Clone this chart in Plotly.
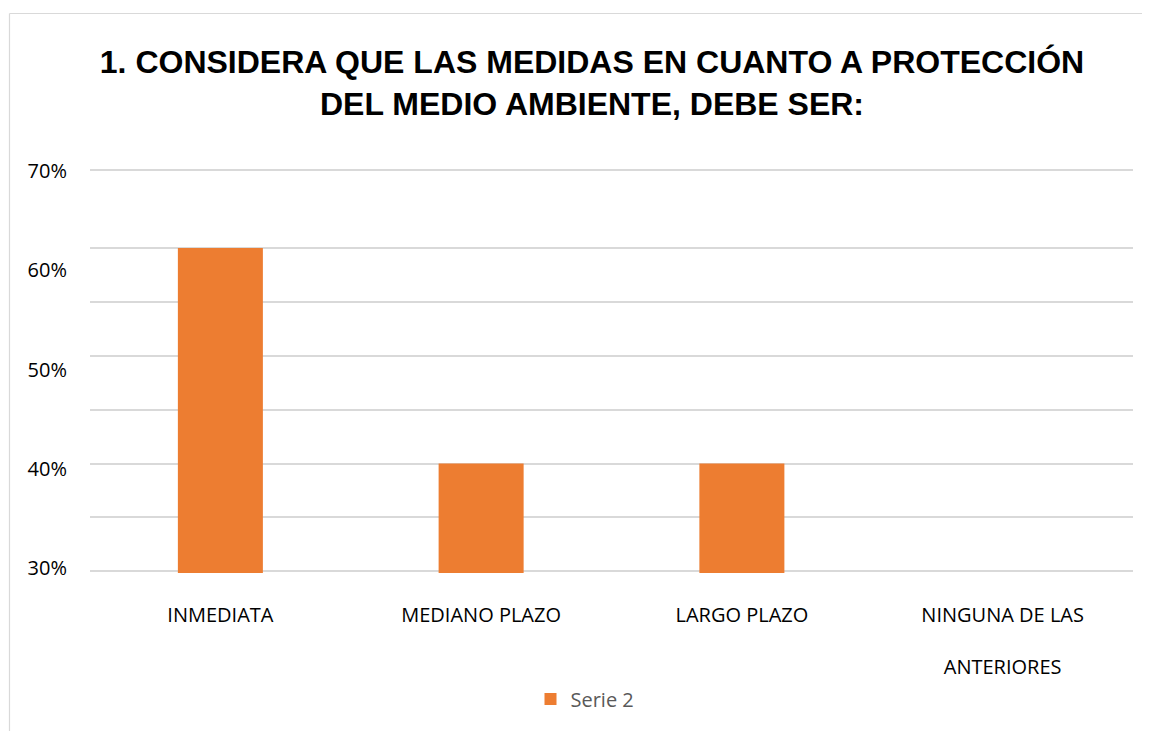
import plotly.graph_objects as go

# ---- data ----
categories = ["INMEDIATA", "MEDIANO PLAZO", "LARGO PLAZO", "NINGUNA DE LAS<br><br>ANTERIORES"]
series_name = "Serie 2"
values = [0.60, 0.40, 0.40, 0.0]
grid_values = [0.30, 0.35, 0.40, 0.45, 0.50, 0.55, 0.60, 0.672]
label_values = [0.30, 0.40, 0.50, 0.60, 0.70]
label_texts = ["30%", "40%", "50%", "60%", "70%"]
title_text = "1. CONSIDERA QUE LAS MEDIDAS EN CUANTO A PROTECCIÓN<br>DEL MEDIO AMBIENTE, DEBE SER:"

W, H = 1150, 731
OFF = 8  # page body margin offset
ML, MT = 90 - OFF, 168 - OFF
plot_w, plot_h = 1043, 405
MR = W - ML - plot_w
MB = H - MT - plot_h

fig = go.Figure()
fig.add_trace(go.Bar(
    x=categories, y=values, name=series_name,
    marker=dict(color="#ED7D31", line=dict(width=0)),
    width=0.326, showlegend=True, hoverinfo="skip",
))
# invisible trace on the secondary axis to hold the percentage labels
fig.add_trace(go.Scatter(
    x=[categories[0]], y=[label_values[0]], yaxis="y2",
    mode="markers", marker=dict(opacity=0), showlegend=False, hoverinfo="skip",
))

def px_x(px):
    return (px - OFF - ML) / plot_w

def px_y(py):
    return (MT + plot_h - (py - OFF)) / plot_h

border = dict(color="#D9D9D9", width=1.2)

fig.update_layout(
    width=W, height=H,
    margin=dict(l=ML, r=MR, t=MT, b=MB),
    paper_bgcolor="white", plot_bgcolor="white",
    title=dict(
        text=title_text, x=(592 - OFF) / W, xref="container", xanchor="center",
        y=1 - (73 - OFF) / H, yref="container", yanchor="middle",
        font=dict(family="Liberation Sans, Arial", size=32, color="#000000", weight="bold"),
    ),
    xaxis=dict(
        showgrid=False, showline=False, zeroline=False,
        ticks="", ticklabelstandoff=28,
        tickfont=dict(family="Open Sans", size=20, color="#000000"),
        range=[-0.5, 3.5],
    ),
    yaxis=dict(
        range=[0.2985, 0.6742], tickmode="array", tickvals=grid_values,
        showticklabels=False, showgrid=True, gridcolor="#D9D9D9", gridwidth=1.5,
        zeroline=False, showline=False, ticks="",
    ),
    yaxis2=dict(
        overlaying="y", side="left", range=[0.295, 0.703],
        tickmode="array", tickvals=label_values, ticktext=label_texts,
        showgrid=False, zeroline=False, showline=False, ticks="",
        ticklabelstandoff=22,
        tickfont=dict(family="Open Sans", size=20, color="#000000"),
    ),
    bargap=0.674,
    legend=dict(
        orientation="h", x=px_x(585), xanchor="center",
        y=px_y(699), yanchor="middle",
        font=dict(family="Open Sans", size=20, color="#595959"),
        bgcolor="rgba(0,0,0,0)",
    ),
    shapes=[
        dict(type="line", xref="paper", yref="paper",
             x0=px_x(9.5), x1=px_x(9.5), y0=px_y(800), y1=px_y(13.5),
             line=border, layer="below"),
        dict(type="line", xref="paper", yref="paper",
             x0=px_x(9.5), x1=px_x(1300), y0=px_y(13.5), y1=px_y(13.5),
             line=border, layer="below"),
    ],
)

fig.write_html("out.html")
